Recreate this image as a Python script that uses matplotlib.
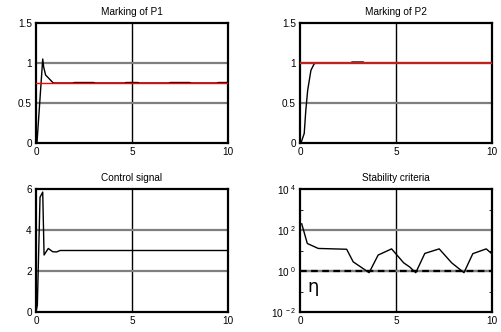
import matplotlib
matplotlib.use("Agg")
import matplotlib.pyplot as plt
import numpy as np

plt.rcParams['font.family'] = ['Liberation Sans', 'DejaVu Sans']
plt.rcParams['mathtext.fontset'] = 'custom'
plt.rcParams['mathtext.rm'] = 'Liberation Sans'
plt.rcParams['mathtext.it'] = 'Liberation Sans'

# ---- data ----
p1_t = [0.0, 0.05, 0.35, 0.40, 0.50, 0.70, 0.90, 2.0, 2.0, 3.0, 3.0, 4.7, 4.7, 5.3, 5.3, 7.0, 7.0, 8.0, 8.0, 9.5, 9.5, 10.0]
p1_v = [0.0, 0.0, 1.05, 0.95, 0.85, 0.80, 0.75, 0.75, 0.756, 0.756, 0.75, 0.75, 0.756, 0.756, 0.75, 0.75, 0.756, 0.756, 0.75, 0.75, 0.756, 0.756]
p1_ref = 0.75

p2_t = [0.0, 0.05, 0.22, 0.30, 0.40, 0.57, 0.74, 0.85, 2.7, 2.7, 3.3, 3.3, 10.0]
p2_v = [0.0, 0.0, 0.12, 0.40, 0.66, 0.91, 0.99, 1.0, 1.0, 1.012, 1.012, 1.0, 1.0]
p2_ref = 1.0

u_t = [0.0, 0.07, 0.21, 0.35, 0.42, 0.64, 0.87, 1.08, 1.25, 10.0]
u_v = [0.0, 0.34, 5.6, 5.85, 2.78, 3.1, 2.94, 2.93, 3.0, 3.0]

s_t = [0.09, 0.38, 0.95, 2.43, 2.77, 3.6, 4.07, 4.77, 5.4, 5.7, 6.03, 6.5, 7.25, 7.9, 8.54, 9.0, 9.7, 10.0]
s_v = [200, 22, 12.6, 11.5, 2.8, 0.83, 6.0, 12.0, 2.5, 1.6, 0.83, 7.2, 12.0, 2.5, 0.83, 7.0, 12.0, 6.8]
eta = 1.0

titles = ["Marking of P1", "Marking of P2", "Control signal", "Stability criteria"]
x_ticks = [0, 5, 10]

fig = plt.figure(figsize=(5.01, 3.32), dpi=100)
W, H = 501, 332

def mkax(x0, y0, x1, y1):
    return fig.add_axes([x0 / W, 1 - y1 / H, (x1 - x0) / W, (y1 - y0) / H])

ax1 = mkax(36, 23, 228, 143)
ax2 = mkax(300, 23, 492, 143)
ax3 = mkax(36, 189, 228, 312)
ax4 = mkax(300, 189, 492, 312)

grid_c = '#7f7f7f'
fs = 7.2

def style(ax, title, yticks, ylabels=None):
    ax.set_xlim(0, 10)
    ax.set_xticks(x_ticks)
    ax.set_yticks(yticks)
    if ylabels is not None:
        ax.set_yticklabels(ylabels)
    ax.axvline(5, color='black', lw=1.0, zorder=1)
    for y in yticks[1:-1]:
        ax.axhline(y, color=grid_c, lw=1.6, zorder=1)
    for s in ax.spines.values():
        s.set_linewidth(1.6)
    ax.tick_params(direction='in', length=0, labelsize=fs, pad=3)
    ax.set_title(title, fontsize=fs, pad=6)

# P1
style(ax1, titles[0], [0, 0.5, 1, 1.5], ['0', '0.5', '1', '1.5'])
ax1.set_ylim(0, 1.5)
ax1.plot(p1_t, p1_v, color='black', lw=1.0, zorder=2)
ax1.axhline(p1_ref, color='#ff0000', lw=1.0, zorder=3)

# P2
style(ax2, titles[1], [0, 0.5, 1, 1.5], ['0', '0.5', '1', '1.5'])
ax2.set_ylim(0, 1.5)
ax2.plot(p2_t, p2_v, color='black', lw=1.0, zorder=2)
ax2.axhline(p2_ref, color='#c0221e', lw=1.6, zorder=3)

# Control
style(ax3, titles[2], [0, 2, 4, 6], ['0', '2', '4', '6'])
ax3.set_ylim(0, 6)
ax3.plot(u_t, u_v, color='black', lw=1.0, zorder=2)

# Stability
ax4.set_yscale('log')
ax4.set_ylim(1e-2, 1e4)
style(ax4, titles[3], [1e-2, 1e0, 1e2, 1e4],
      [r'$10^{\ -2}$', r'$10^{\ 0}$', r'$10^{\ 2}$', r'$10^{\ 4}$'])
ax4.set_yticks([1e-1, 1e1, 1e3], minor=True)
ax4.tick_params(which='minor', direction='in', length=2, left=True, right=True, labelleft=False)
ax4.axhline(eta, color=grid_c, lw=1.6, zorder=1)
ax4.axhline(eta, color='black', lw=1.6, ls=(0, (3, 2)), zorder=3)
ax4.plot(s_t, s_v, color='black', lw=1.0, zorder=2)
ax4.text(0.7, 10 ** -0.78, 'η', fontsize=13, ha='center', va='center',
         family=['DejaVu Sans'])

fig.savefig('out.png', dpi=100)
